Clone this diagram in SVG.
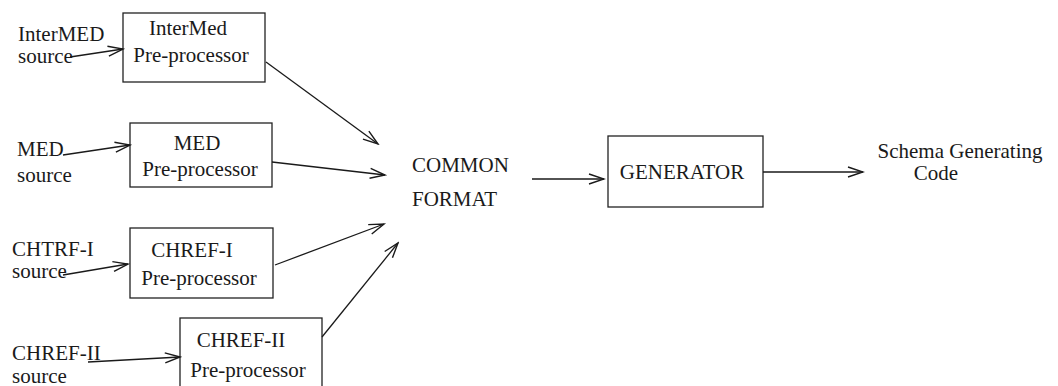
<svg xmlns="http://www.w3.org/2000/svg" width="1058" height="386" viewBox="0 0 1058 386">
  <style>
    .box { fill: none; stroke: #222; stroke-width: 1.3; }
    .lbl { font-family: "Liberation Serif", "Times New Roman", serif; font-size: 21px; fill: #1a1a1a; }
    .c { text-anchor: middle; }
    .edge { fill: none; stroke: #1a1a1a; stroke-width: 1.3; marker-end: url(#arrow); }
  </style>
  <defs>
    <marker id="arrow" markerUnits="userSpaceOnUse" markerWidth="18" markerHeight="12" refX="16" refY="6" orient="auto">
      <path d="M1,1 L16,6 L1,11" fill="none" stroke="#1a1a1a" stroke-width="1.4"/>
    </marker>
  </defs>

  <rect width="1058" height="386" fill="#ffffff"/>

  <!-- source labels -->
  <g id="src-intermed">
    <text class="lbl" x="18" y="41">InterMED</text>
    <text class="lbl" x="18" y="63">source</text>
  </g>
  <g id="src-med">
    <text class="lbl" x="17" y="156">MED</text>
    <text class="lbl" x="17" y="182">source</text>
  </g>
  <g id="src-chtrf1">
    <text class="lbl" x="12" y="256">CHTRF-I</text>
    <text class="lbl" x="12" y="278">source</text>
  </g>
  <g id="src-chref2">
    <text class="lbl" x="12" y="360">CHREF-II</text>
    <text class="lbl" x="12" y="383">source</text>
  </g>

  <!-- pre-processors -->
  <g id="pre-intermed">
    <rect class="box" x="123" y="13" width="142" height="69"/>
    <text class="lbl c" x="188" y="35">InterMed</text>
    <text class="lbl c" x="191" y="62">Pre-processor</text>
  </g>
  <g id="pre-med">
    <rect class="box" x="130" y="123" width="142" height="64"/>
    <text class="lbl c" x="197" y="150">MED</text>
    <text class="lbl c" x="200" y="176">Pre-processor</text>
  </g>
  <g id="pre-chref1">
    <rect class="box" x="130" y="228" width="143" height="70"/>
    <text class="lbl c" x="192" y="257">CHREF-I</text>
    <text class="lbl c" x="199" y="285">Pre-processor</text>
  </g>
  <g id="pre-chref2">
    <rect class="box" x="180" y="318" width="142" height="80"/>
    <text class="lbl c" x="241" y="347">CHREF-II</text>
    <text class="lbl c" x="248" y="377">Pre-processor</text>
  </g>

  <!-- common format -->
  <g id="common-format">
    <text class="lbl" x="412" y="172">COMMON</text>
    <text class="lbl" x="412" y="206">FORMAT</text>
  </g>

  <!-- generator -->
  <g id="generator">
    <rect class="box" x="608" y="136" width="155" height="71"/>
    <text class="lbl c" x="682" y="179">GENERATOR</text>
  </g>

  <!-- output -->
  <g id="output">
    <text class="lbl c" x="960" y="158">Schema Generating</text>
    <text class="lbl c" x="936" y="180">Code</text>
  </g>

  <!-- connectors -->
  <g id="connectors">
    <line class="edge" x1="70" y1="57" x2="123" y2="49"/>
    <line class="edge" x1="63" y1="155" x2="130" y2="145"/>
    <line class="edge" x1="63" y1="275" x2="128" y2="264"/>
    <line class="edge" x1="88" y1="362" x2="180" y2="357"/>

    <line class="edge" x1="266" y1="62" x2="378" y2="144"/>
    <line class="edge" x1="272" y1="162" x2="385" y2="175"/>
    <line class="edge" x1="275" y1="265" x2="384" y2="224"/>
    <line class="edge" x1="322" y1="337" x2="398" y2="243"/>

    <line class="edge" x1="532" y1="179" x2="604" y2="179"/>
    <line class="edge" x1="763" y1="172" x2="863" y2="172"/>
  </g>
</svg>
